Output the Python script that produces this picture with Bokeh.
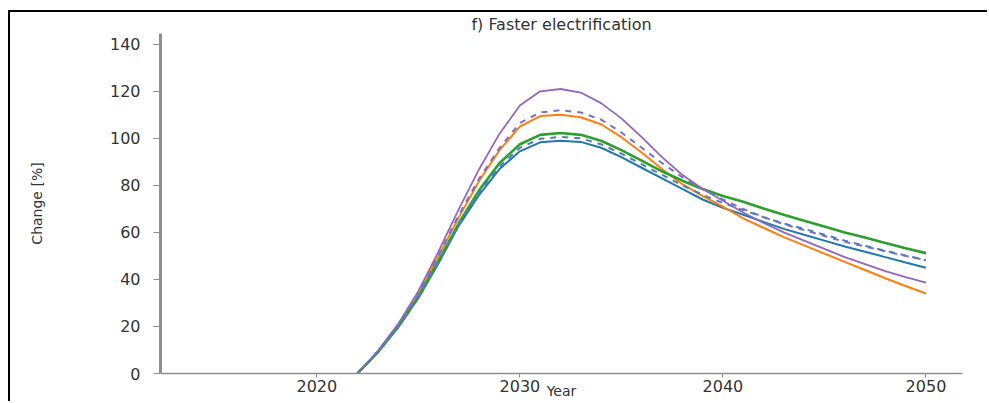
from bokeh.plotting import figure
from bokeh.embed import file_html
from bokeh.resources import INLINE
from bokeh.models import FixedTicker, Range1d

# Annual change relative to the base year, 2022-2050
years = list(range(2022, 2051))
blue = [0, 9, 19.5, 32, 47, 63, 76, 87, 94.5, 98.3, 99, 98.5, 96, 92, 87.5, 83,
        78.5, 74, 70.5, 67.5, 64.5, 61.5, 59, 56.5, 54, 51.8, 49.5, 47.2, 45]
orange = [0, 9.2, 20.3, 33.5, 50, 66.5, 82, 95, 105, 109.5, 110, 109, 106, 100.5, 94,
          87, 80.5, 75.5, 71, 66, 62, 58, 54.5, 51, 47.5, 44, 40.5, 37.2, 34]
green = [0, 9, 20, 32.5, 48, 64, 78, 89.5, 97.5, 101.5, 102.3, 101.5, 99, 95, 90.5,
         86, 82, 78.5, 75.5, 73, 70.2, 67.5, 65, 62.5, 60, 57.8, 55.5, 53.3, 51.2]
purple = [0, 9.5, 21, 35, 52, 70, 87, 102, 114, 120, 121, 119.5, 115, 108.5, 100.5, 92,
          84.5, 78.5, 73.5, 68.5, 64, 60, 56.5, 53, 49.5, 46.5, 43.5, 41, 38.6]
mean_upper = [0, 9.3, 20.5, 34, 50.5, 67.5, 83, 96, 106.5, 111, 112, 111, 108, 102.5, 96,
              89.5, 83.5, 78.5, 74, 70, 66.5, 63.5, 61, 58.5, 56, 54, 52, 50, 48.2]
mean_lower = [0, 9, 19.8, 32.3, 47.5, 63.5, 77, 88, 96, 99.8, 100.6, 100, 97.5, 93.5, 89,
              84.5, 80, 76, 72.5, 69.5, 66.5, 63.8, 61.5, 59, 56.5, 54.3, 52.2, 50.2, 48.2]

x_ticks = [2020, 2030, 2040, 2050]
y_ticks = [0, 20, 40, 60, 80, 100, 120, 140]

FONT = "DejaVu Sans"
TEXT = "#333333"
SPINE = "#8f8f8f"

p = figure(
    width=979, height=391,
    x_range=Range1d(2012.3, 2051.8), y_range=Range1d(0, 144.6),
    output_backend="svg", toolbar_location=None,
    title="f) Faster electrification",
    x_axis_label="Year", y_axis_label="Change [%]",
)
p.min_border_left = 150
p.min_border_right = 27
p.min_border_top = 0
p.min_border_bottom = 30
p.outline_line_color = None
p.background_fill_color = "white"
p.border_fill_color = "white"
# framed panel: black rule along the top and left edges
p.styles = {
    "position": "absolute", "left": "8px", "top": "10px", "overflow": "hidden",
    "border-left": "2px solid #000", "border-top": "2px solid #000",
}

p.title.text_font = FONT
p.title.text_font_size = "16px"
p.title.text_font_style = "normal"
p.title.text_color = TEXT
p.title.align = "center"
p.title.offset = -10
p.title.standoff = 0

p.xgrid.visible = False
p.ygrid.visible = False

for ax in (p.xaxis[0], p.yaxis[0]):
    ax.major_label_text_font = FONT
    ax.major_label_text_font_size = "16px"
    ax.major_label_text_color = TEXT
    ax.axis_label_text_font = FONT
    ax.axis_label_text_font_style = "normal"
    ax.axis_label_text_color = TEXT
    ax.axis_line_color = SPINE
    ax.major_tick_line_color = SPINE
    ax.minor_tick_line_color = None
    ax.major_tick_in = 0

p.xaxis.ticker = FixedTicker(ticks=x_ticks)
p.xaxis.axis_line_width = 1.5
p.xaxis.major_tick_out = 4
p.xaxis.major_label_standoff = 2
p.xaxis.axis_label_text_font_size = "14px"
p.xaxis.axis_label_standoff = -12

p.yaxis.ticker = FixedTicker(ticks=y_ticks)
p.yaxis.axis_line_width = 3
p.yaxis.major_tick_out = 7
p.yaxis.major_label_standoff = 13
p.yaxis.axis_label_text_font_size = "14px"
p.yaxis.axis_label_standoff = 62

series = [
    (blue, "#1f77b4", "solid", 2),
    (orange, "#ff7f0e", "solid", 2),
    (green, "#2ca02c", "solid", 2.6),
    (purple, "#9467bd", "solid", 1.8),
    (mean_upper, "#7f6fc0", "dashed", 2),
    (mean_lower, "#4f7fb5", "dashed", 2),
]
for vals, color, dash, lw in series:
    p.line(years, vals, line_color=color, line_width=lw, line_dash=dash)

open("out.html", "w").write(file_html(p, INLINE))
